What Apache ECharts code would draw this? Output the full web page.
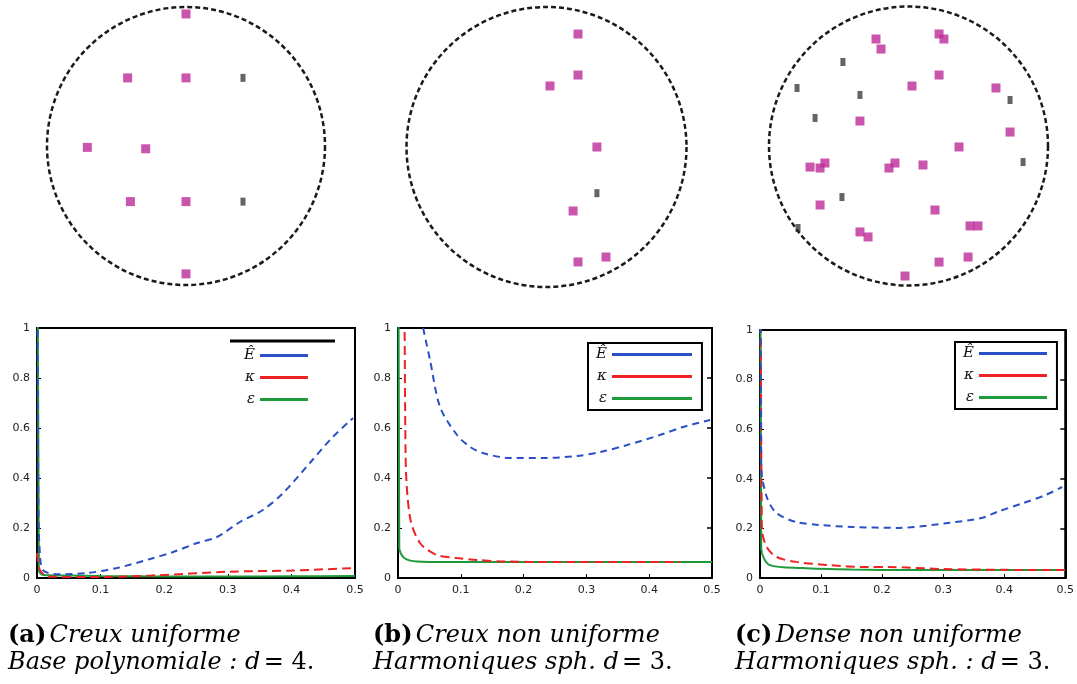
<!DOCTYPE html>
<html><head><meta charset="utf-8">
<script src="https://cdn.jsdelivr.net/npm/echarts@6/dist/echarts.min.js"></script>
<style>html,body{margin:0;padding:0;background:#fff}#c{width:1077px;height:684px}</style>
</head><body><div id="c"></div>
<script>
// ---- Disk point sets (unit disk coordinates) ----
const diskA_px = [0, -0.42, 0, -0.71, -0.29, -0.40, 0, 0];
const diskA_py = [0.95, 0.49, 0.49, -0.01, -0.02, -0.40, -0.40, -0.92];
const diskA_mx = [0.41, 0.41];
const diskA_my = [0.49, -0.40];

const diskB_px = [0.225, 0.225, 0.025, 0.36, 0.19, 0.225, 0.425];
const diskB_py = [0.807, 0.514, 0.436, 0.0, -0.457, -0.821, -0.786];
const diskB_mx = [0.36];
const diskB_my = [-0.33];

const diskC_px = [-0.233,-0.197,0.219,0.254,0.219,0.025,0.627,-0.348,0.728,0.362,-0.706,-0.599,-0.634,-0.140,-0.097,0.104,-0.634,0.190,0.441,0.498,-0.348,-0.290,0.219,0.427,-0.025];
const diskC_py = [0.767,0.695,0.803,0.767,0.509,0.430,0.416,0.179,0.100,-0.007,-0.151,-0.122,-0.158,-0.158,-0.122,-0.136,-0.423,-0.459,-0.573,-0.573,-0.616,-0.652,-0.832,-0.796,-0.932];
const diskC_mx = [-0.477,-0.348,-0.470,-0.670,-0.799,0.728,-0.792,0.821];
const diskC_my = [-0.366,0.366,0.602,0.201,0.416,0.330,-0.588,-0.115];

// ---- Curves ----
const xTicks = [0, 0.1, 0.2, 0.3, 0.4, 0.5];
const yTicks = [0, 0.2, 0.4, 0.6, 0.8, 1];
const seriesNames = ['\u00ca', '\u03ba', '\u03b5'];

// panel (a)
const aBlueX = [0, 0.002, 0.005, 0.01, 0.03, 0.079, 0.126, 0.178, 0.214, 0.252, 0.283, 0.319, 0.355, 0.387, 0.429, 0.465, 0.497];
const aBlueY = [2, 0.3, 0.08, 0.03, 0.015, 0.02, 0.04, 0.076, 0.104, 0.14, 0.164, 0.224, 0.272, 0.34, 0.46, 0.564, 0.64];
const aRedX = [0, 0.005, 0.02, 0.1, 0.18, 0.3, 0.4, 0.5];
const aRedY = [0.1, 0.03, 0.005, 0.004, 0.01, 0.025, 0.03, 0.04];
const aGreenX = [0, 0.003, 0.01, 0.05, 0.1, 0.2, 0.3, 0.4, 0.5];
const aGreenY = [3, 0.03, 0.012, 0.01, 0.008, 0.006, 0.006, 0.007, 0.008];

// panel (b)
const bBlueX = [0.04, 0.051, 0.067, 0.094, 0.115, 0.135, 0.178, 0.231, 0.285, 0.322, 0.365, 0.417, 0.454, 0.497];
const bBlueY = [1.0, 0.872, 0.684, 0.572, 0.524, 0.5, 0.48, 0.48, 0.488, 0.504, 0.532, 0.572, 0.604, 0.632];
const bRedX = [0.008, 0.012, 0.019, 0.035, 0.062, 0.094, 0.126, 0.17, 0.25, 0.35, 0.45];
const bRedY = [3, 0.5, 0.244, 0.14, 0.092, 0.08, 0.072, 0.066, 0.064, 0.064, 0.064];
const bGreenX = [0, 0.002, 0.01, 0.03, 0.08, 0.2, 0.3, 0.4, 0.5];
const bGreenY = [3, 0.12, 0.08, 0.066, 0.064, 0.064, 0.064, 0.064, 0.064];

// panel (c)
const cBlueX = [0, 0.002, 0.011, 0.027, 0.059, 0.096, 0.149, 0.228, 0.308, 0.363, 0.388, 0.431, 0.468, 0.495];
const cBlueY = [3, 0.45, 0.327, 0.262, 0.226, 0.214, 0.206, 0.202, 0.222, 0.242, 0.266, 0.302, 0.335, 0.367];
const cRedX = [0, 0.003, 0.011, 0.027, 0.059, 0.112, 0.176, 0.21, 0.3, 0.4, 0.5];
const cRedY = [3, 0.2, 0.125, 0.085, 0.065, 0.052, 0.044, 0.044, 0.036, 0.033, 0.032];
const cGreenX = [0, 0.002, 0.016, 0.069, 0.15, 0.25, 0.35, 0.45, 0.5];
const cGreenY = [3, 0.12, 0.052, 0.04, 0.034, 0.032, 0.032, 0.032, 0.032];

const BLUE = '#2b4fc4', RED = '#ee2222', GREEN = '#1f9a3a', MAG = '#bd2a98';
const zip = (xs, ys) => xs.map((x, i) => [x, ys[i]]);

const chart = echarts.init(document.getElementById('c'), null, {renderer: 'canvas'});

const diskGrids = [
  {left: 47, top: 7, width: 278, height: 278},
  {left: 406.5, top: 7, width: 280, height: 280},
  {left: 769, top: 6.5, width: 279, height: 279}
];
const plotGrids = [
  {left: 37, top: 328, width: 318, height: 250},
  {left: 398, top: 328, width: 314, height: 250},
  {left: 760, top: 330, width: 313, height: 248}
];
const grid = [];
diskGrids.forEach(g => grid.push(Object.assign({show: false}, g)));
plotGrids.forEach(g => grid.push(Object.assign({show: true, borderColor: '#000', borderWidth: 2, backgroundColor: 'transparent'}, g)));

const xAxis = [], yAxis = [];
for (let i = 0; i < 3; i++) {
  xAxis.push({gridIndex: i, type: 'value', min: -1, max: 1, show: false});
  yAxis.push({gridIndex: i, type: 'value', min: -1, max: 1, show: false});
}
const fmt = v => (v === 0 ? '0' : v === 1 ? '1' : String(+v.toFixed(2)));
for (let i = 0; i < 3; i++) {
  xAxis.push({
    gridIndex: 3 + i, type: 'value', min: 0, max: 0.5, interval: 0.1,
    axisLine: {show: true, lineStyle: {color: '#000', width: 2}},
    axisTick: {show: true, inside: true, length: 4, lineStyle: {color: '#000'}},
    axisLabel: {color: '#222', fontSize: 11, margin: 7, fontFamily: 'DejaVu Sans', formatter: v => fmt(v)},
    splitLine: {show: false}
  });
  yAxis.push({
    gridIndex: 3 + i, type: 'value', min: 0, max: 1, interval: 0.2,
    axisLine: {show: true, lineStyle: {color: '#000', width: 2}},
    axisTick: {show: true, inside: true, length: 4, lineStyle: {color: '#000'}},
    axisLabel: {color: '#222', fontSize: 11, margin: 7, fontFamily: 'DejaVu Sans', formatter: v => fmt(v)},
    splitLine: {show: false}
  });
}
[4, 5].forEach(gi => {
  yAxis.push({
    gridIndex: gi, type: 'value', min: 0, max: 1, interval: 0.2, position: 'right',
    axisLine: {show: true, lineStyle: {color: '#000', width: 2}},
    axisTick: {show: true, inside: true, length: 5, lineStyle: {color: '#000', width: 1.5}},
    axisLabel: {show: false}, splitLine: {show: false}
  });
});

const series = [];
const disks = [
  [diskA_px, diskA_py, diskA_mx, diskA_my],
  [diskB_px, diskB_py, diskB_mx, diskB_my],
  [diskC_px, diskC_py, diskC_mx, diskC_my]
];
disks.forEach((d, i) => {
  series.push({type: 'scatter', xAxisIndex: i, yAxisIndex: i, symbol: 'rect', symbolSize: [5, 8],
    itemStyle: {color: '#222', opacity: 0.7}, data: zip(d[2], d[3]), silent: true, z: 3});
  series.push({type: 'scatter', xAxisIndex: i, yAxisIndex: i, symbol: 'rect', symbolSize: 9,
    itemStyle: {color: MAG}, data: zip(d[0], d[1]), silent: true, z: 4});
});

const panels = [
  [[aBlueX, aBlueY], [aRedX, aRedY], [aGreenX, aGreenY]],
  [[bBlueX, bBlueY], [bRedX, bRedY], [bGreenX, bGreenY]],
  [[cBlueX, cBlueY], [cRedX, cRedY], [cGreenX, cGreenY]]
];
const styles = [
  {color: BLUE, type: [7, 5]},
  {color: RED, type: [9, 5]},
  {color: GREEN, type: 'solid'}
];
panels.forEach((p, i) => {
  p.forEach((s, k) => {
    series.push({
      type: 'line', name: seriesNames[k], xAxisIndex: 3 + i, yAxisIndex: 3 + i,
      showSymbol: false, smooth: 0.3, clip: true, animation: false,
      lineStyle: {color: styles[k].color, width: 2, type: styles[k].type},
      itemStyle: {color: styles[k].color},
      data: zip(s[0], s[1]), z: 5 - k
    });
  });
});

function makeLegend(left, top, border, w) {
  return {
    orient: 'vertical', align: 'right', left: left, top: top,
    itemWidth: w, itemHeight: 3, itemGap: 7, icon: 'rect',
    textStyle: {fontFamily: 'DejaVu Serif', fontStyle: 'italic', fontSize: 15, color: '#111'},
    data: seriesNames.slice(), selectedMode: false,
    backgroundColor: '#fff', padding: [4, 10, 4, 8],
    borderColor: '#000', borderWidth: border ? 2 : 0
  };
}
const legend = [makeLegend(236, 344, false, 48), makeLegend(588, 343, true, 80), makeLegend(955, 342, true, 68)];

function capRich() {
  return {
    b: {fontFamily: 'DejaVu Serif', fontWeight: 'bold', fontSize: 24, color: '#111'},
    i: {fontFamily: 'DejaVu Serif', fontStyle: 'italic', fontSize: 24, color: '#111'},
    r: {fontFamily: 'DejaVu Serif', fontSize: 24, color: '#111'}
  };
}
const captions = [
  ['{b|(a)} {i|Creux uniforme}', '{i|Base polynomiale : d} {r|= 4.}'],
  ['{b|(b)} {i|Creux non uniforme}', '{i|Harmoniques sph. d} {r|= 3.}'],
  ['{b|(c)} {i|Dense non uniforme}', '{i|Harmoniques sph. : d} {r|= 3.}']
];
const capX = [8, 373, 735];
const graphic = [];
captions.forEach((c, i) => {
  graphic.push({type: 'text', left: capX[i], top: 624, style: {text: c[0], rich: capRich()}});
  graphic.push({type: 'text', left: capX[i], top: 651, style: {text: c[1], rich: capRich()}});
});
graphic.push({type: 'line', shape: {x1: 230, y1: 341, x2: 335, y2: 341}, style: {stroke: '#000', lineWidth: 3}, z: 100});

const polar = [
  {center: [186, 146], radius: 139},
  {center: [546.5, 147], radius: 140},
  {center: [908.5, 146], radius: 139.5}
];
const angleAxis = polar.map((p, i) => ({
  polarIndex: i, type: 'value', min: 0, max: 360,
  axisLine: {show: true, lineStyle: {color: '#1a1a1a', width: 2.5, type: [5, 3]}},
  axisTick: {show: false}, axisLabel: {show: false}, splitLine: {show: false}
}));
const radiusAxis = polar.map((p, i) => ({
  polarIndex: i, type: 'value', min: 0, max: 1,
  axisLine: {show: false}, axisTick: {show: false}, axisLabel: {show: false}, splitLine: {show: false}
}));

chart.setOption({
  animation: false,
  backgroundColor: '#fff',
  grid, xAxis, yAxis, polar, angleAxis, radiusAxis, series, legend, graphic
});
</script></body></html>
